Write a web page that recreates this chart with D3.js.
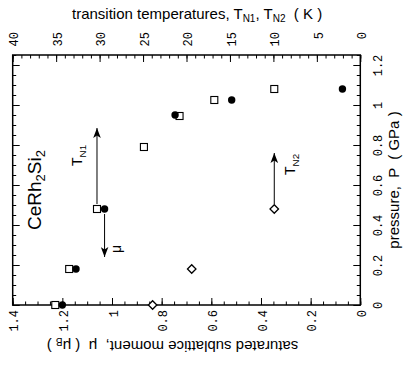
<!DOCTYPE html>
<html>
<head>
<meta charset="utf-8">
<script src="https://cdn.jsdelivr.net/npm/d3@7"></script>
<style>
    body { margin: 0; background: #fff; }
    .tick-label { font-family: "Liberation Mono", monospace; font-size: 12px; fill: #000; }
    .title { font-family: "Liberation Sans", Arial, sans-serif; font-size: 15px; fill: #000; }
    .note { font-family: "Liberation Sans", Arial, sans-serif; fill: #000; }
</style>
</head>
<body>
<div id="chart"></div>
<script>
// T_N1 (open squares) against pressure
var pressureN1 = [0, 0.18, 0.48, 0.79, 0.945, 1.025, 1.08];
var tempN1 = [35.1, 33.5, 30.3, 24.9, 20.8, 16.8, 9.9];

// T_N2 (open diamonds)
var pressureN2 = [0, 0.18, 0.48];
var tempN2 = [23.9, 19.4, 9.9];

// saturated moment (filled circles)
var pressureMu = [0, 0.18, 0.48, 0.95, 1.025, 1.08];
var moment = [1.2, 1.145, 1.03, 0.746, 0.518, 0.072];

// tick labels
var tempTicks = [0, 5, 10, 15, 20, 25, 30, 35, 40];
var momentTicks = [0, 0.2, 0.4, 0.6, 0.8, 1, 1.2, 1.4];
var pressureTicks = [0, 0.2, 0.4, 0.6, 0.8, 1, 1.2];

var width = 409;
var height = 377;
var frame = {left: 12.7, right: 360.3, top: 55, bottom: 305};

var svg = d3.select("#chart").append("svg")
    .attr("width", width)
    .attr("height", height);

svg.append("rect").attr("width", width).attr("height", height).attr("fill", "#fff");

var xTemp = d3.scaleLinear().domain([40, 0]).range([frame.left, frame.right]);
var xMoment = d3.scaleLinear().domain([1.4, 0]).range([frame.left, frame.right]);
var yPress = d3.scaleLinear().domain([0, 1.25]).range([frame.bottom, frame.top]);

var fmt = d3.format("~g");

// arrow head
svg.append("defs").append("marker")
    .attr("id", "head")
    .attr("viewBox", "0 -4 10 8")
    .attr("refX", 10)
    .attr("refY", 0)
    .attr("markerUnits", "userSpaceOnUse")
    .attr("markerWidth", 10)
    .attr("markerHeight", 8)
    .attr("orient", "auto")
    .append("path")
    .attr("d", "M0,-3.8L10,0L0,3.8L2.5,0Z")
    .attr("fill", "#000");

var cleanAxis = function(g) {
    g.select(".domain").remove();
    g.selectAll("line").attr("stroke", "#000").attr("stroke-width", 1);
};

// top axis: temperatures
var topMajor = svg.append("g").attr("transform", "translate(0," + frame.top + ")")
    .call(d3.axisTop(xTemp).tickValues(tempTicks).tickSize(-7).tickFormat(fmt))
    .call(cleanAxis);
topMajor.selectAll("text")
    .attr("class", "tick-label")
    .attr("y", 0).attr("dy", "0.35em")
    .attr("text-anchor", "end")
    .attr("transform", "translate(1,-23) rotate(-90)");
svg.append("g").attr("transform", "translate(0," + frame.top + ")")
    .call(d3.axisTop(xTemp).tickValues(d3.range(0, 41, 1)).tickSize(-3.5).tickFormat(""))
    .call(cleanAxis);

// bottom axis: moment
var bottomMajor = svg.append("g").attr("transform", "translate(0," + frame.bottom + ")")
    .call(d3.axisBottom(xMoment).tickValues(momentTicks).tickSize(-7).tickFormat(fmt))
    .call(cleanAxis);
bottomMajor.selectAll("text")
    .attr("class", "tick-label")
    .attr("y", 0).attr("dy", "0.35em")
    .attr("text-anchor", "end")
    .attr("transform", "translate(1,5) rotate(-90)");
svg.append("g").attr("transform", "translate(0," + frame.bottom + ")")
    .call(d3.axisBottom(xMoment).tickValues(d3.range(0, 1.401, 0.05)).tickSize(-3.5).tickFormat(""))
    .call(cleanAxis);

// right axis: pressure
var rightMajor = svg.append("g").attr("transform", "translate(" + frame.right + ",0)")
    .call(d3.axisRight(yPress).tickValues(pressureTicks).tickSize(-7).tickFormat(fmt))
    .call(cleanAxis);
rightMajor.selectAll("text")
    .attr("class", "tick-label")
    .attr("x", 0).attr("dy", "0.35em")
    .attr("text-anchor", "middle")
    .attr("transform", "translate(17,0) rotate(-90)");
svg.append("g").attr("transform", "translate(" + frame.right + ",0)")
    .call(d3.axisRight(yPress).tickValues(d3.range(0, 1.251, 0.05)).tickSize(-3.5).tickFormat(""))
    .call(cleanAxis);

// left side, ticks only
svg.append("g").attr("transform", "translate(" + frame.left + ",0)")
    .call(d3.axisLeft(yPress).tickValues(pressureTicks).tickSize(-7).tickFormat(""))
    .call(cleanAxis);
svg.append("g").attr("transform", "translate(" + frame.left + ",0)")
    .call(d3.axisLeft(yPress).tickValues(d3.range(0, 1.251, 0.05)).tickSize(-3.5).tickFormat(""))
    .call(cleanAxis);

svg.append("rect")
    .attr("x", frame.left).attr("y", frame.top)
    .attr("width", frame.right - frame.left).attr("height", frame.bottom - frame.top)
    .attr("fill", "none").attr("stroke", "#000").attr("stroke-width", 1.5);

// axis titles
var topTitle = svg.append("text").attr("class", "title")
    .attr("x", 72).attr("y", 18.5).attr("xml:space", "preserve");
topTitle.append("tspan").text("transition temperatures, T");
topTitle.append("tspan").attr("font-size", "10px").attr("dy", 3).text("N1");
topTitle.append("tspan").attr("dy", -3).text(", T");
topTitle.append("tspan").attr("font-size", "10px").attr("dy", 3).text("N2");
topTitle.append("tspan").attr("dy", -3).text("  ( K )");

var bottomTitle = svg.append("text").attr("class", "title")
    .attr("text-anchor", "middle").attr("xml:space", "preserve")
    .attr("transform", "translate(172.5,341) rotate(180)");
bottomTitle.append("tspan").text("saturated sublattice moment,  \u03bc  ( \u03bc");
bottomTitle.append("tspan").attr("font-size", "10px").attr("dy", 3).text("B");
bottomTitle.append("tspan").attr("dy", -3).text(" )");

svg.append("text").attr("class", "title")
    .attr("text-anchor", "middle").attr("xml:space", "preserve")
    .attr("transform", "translate(399,180) rotate(-90)")
    .text("pressure,  P  ( GPa )");

// arrows
var arrowLine = function(x, p0, p1) {
    svg.append("line")
        .attr("x1", x).attr("x2", x)
        .attr("y1", yPress(p0)).attr("y2", yPress(p1))
        .attr("stroke", "#000").attr("stroke-width", 1)
        .attr("marker-end", "url(#head)");
};
arrowLine(xTemp(30.3), 0.505, 0.885);
arrowLine(xMoment(1.03), 0.455, 0.24);
arrowLine(xTemp(9.9), 0.505, 0.76);

// rotated annotations
var subLabel = function(x, y, main, sub, size) {
    var t = svg.append("text").attr("class", "note")
        .attr("font-size", size + "px")
        .attr("transform", "translate(" + x + "," + y + ") rotate(-90)");
    t.append("tspan").text(main);
    if (sub) {
        t.append("tspan").attr("font-size", (size * 0.7) + "px").attr("dy", size * 0.25).text(sub);
    }
    return t;
};
subLabel(xTemp(32.0), yPress(0.695), "T", "N1", 14);
subLabel(xTemp(7.5), yPress(0.65), "T", "N2", 14);
subLabel(xMoment(0.964), yPress(0.28), "\u03bc", null, 14).attr("text-anchor", "middle");

var ce = svg.append("text").attr("class", "note")
    .attr("font-size", "19px").attr("text-anchor", "middle")
    .attr("transform", "translate(" + xTemp(36.74) + "," + yPress(0.575) + ") rotate(-90)");
ce.append("tspan").text("CeRh");
ce.append("tspan").attr("font-size", "13px").attr("dy", 4).text("2");
ce.append("tspan").attr("dy", -4).text("Si");
ce.append("tspan").attr("font-size", "13px").attr("dy", 4).text("2");

// data markers
var squares = d3.zip(tempN1, pressureN1);
svg.append("g").selectAll("rect")
    .data(squares)
    .enter().append("rect")
    .attr("x", function(d) { return xTemp(d[0]) - 3.5; })
    .attr("y", function(d) { return yPress(d[1]) - 3.5; })
    .attr("width", 7).attr("height", 7)
    .attr("fill", "#fff").attr("stroke", "#000").attr("stroke-width", 1.1);

var diamonds = d3.zip(tempN2, pressureN2);
svg.append("g").selectAll("path")
    .data(diamonds)
    .enter().append("path")
    .attr("d", d3.symbol(d3.symbolSquare, 36))
    .attr("transform", function(d) {
        return "translate(" + xTemp(d[0]) + "," + yPress(d[1]) + ") rotate(45)";
    })
    .attr("fill", "#fff").attr("stroke", "#000").attr("stroke-width", 1.3);

var circles = d3.zip(moment, pressureMu);
svg.append("g").selectAll("circle")
    .data(circles)
    .enter().append("circle")
    .attr("cx", function(d) { return xMoment(d[0]); })
    .attr("cy", function(d) { return yPress(d[1]); })
    .attr("r", 3.7)
    .attr("fill", "#000");
</script>
</body>
</html>
